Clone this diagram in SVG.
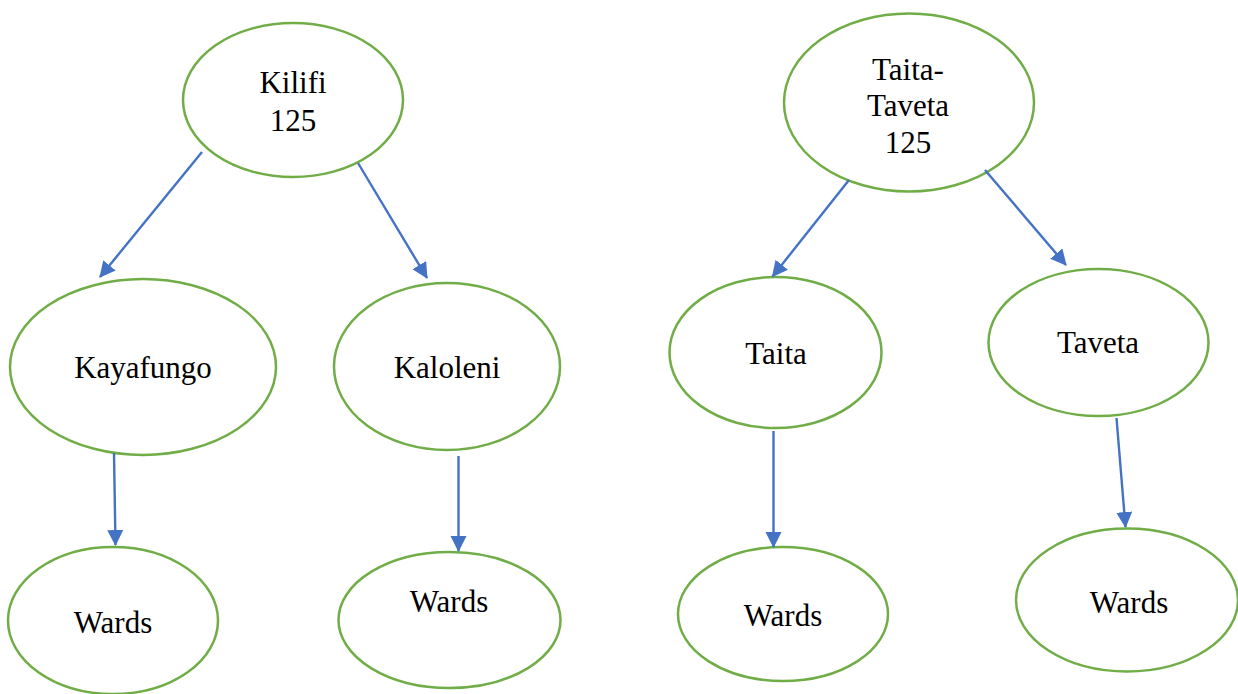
<svg xmlns="http://www.w3.org/2000/svg" width="1238" height="694" viewBox="0 0 1238 694">
<style>
.node ellipse{fill:#ffffff;stroke:#70AD47;stroke-width:2.5}
.node text{font-size:31px;fill:#000000;text-anchor:middle}
.conn line{stroke:#4472C4;stroke-width:2.4;fill:none}
</style>
<defs>
<marker id="arr" markerUnits="userSpaceOnUse" markerWidth="18" markerHeight="18" refX="15" refY="8" orient="auto">
<path d="M0,0 L16,8 L0,16 Z" fill="#4472C4"/>
</marker>
</defs>
<rect width="1238" height="694" fill="#ffffff"/>
<g font-family="'Liberation Serif', 'DejaVu Serif', serif">
<g id="kilifi" class="node"><ellipse cx="293" cy="100" rx="110" ry="77"/><text x="293" y="93">Kilifi</text><text x="293" y="131">125</text></g>
<g id="taita-taveta" class="node"><ellipse cx="909" cy="102.5" rx="125" ry="89"/><text x="908" y="80">Taita-</text><text x="908" y="116">Taveta</text><text x="908" y="153">125</text></g>
<g id="kayafungo" class="node"><ellipse cx="143" cy="367" rx="133" ry="88"/><text x="143" y="378">Kayafungo</text></g>
<g id="kaloleni" class="node"><ellipse cx="447" cy="366.5" rx="113" ry="83.5"/><text x="447" y="378">Kaloleni</text></g>
<g id="taita" class="node"><ellipse cx="775.5" cy="352.5" rx="106" ry="75.5"/><text x="776" y="364">Taita</text></g>
<g id="taveta" class="node"><ellipse cx="1098.5" cy="342.5" rx="110" ry="73.5"/><text x="1098" y="353">Taveta</text></g>
<g id="wards-kayafungo" class="node"><ellipse cx="113" cy="620.5" rx="105" ry="73.5"/><text x="113" y="633">Wards</text></g>
<g id="wards-kaloleni" class="node"><ellipse cx="449.5" cy="620" rx="111" ry="68"/><text x="449" y="612">Wards</text></g>
<g id="wards-taita" class="node"><ellipse cx="783" cy="614" rx="105" ry="67"/><text x="783" y="626">Wards</text></g>
<g id="wards-taveta" class="node"><ellipse cx="1127" cy="600" rx="111" ry="71.5"/><text x="1129" y="613">Wards</text></g>
</g>
<g id="connectors" class="conn">
<line x1="202" y1="152" x2="100" y2="277" marker-end="url(#arr)"/>
<line x1="358" y1="163" x2="427" y2="278" marker-end="url(#arr)"/>
<line x1="849" y1="180" x2="772.5" y2="276.5" marker-end="url(#arr)"/>
<line x1="985" y1="170" x2="1066" y2="265" marker-end="url(#arr)"/>
<line x1="114" y1="453" x2="115.5" y2="545" marker-end="url(#arr)"/>
<line x1="458.5" y1="456" x2="458.5" y2="551" marker-end="url(#arr)"/>
<line x1="773.5" y1="431" x2="773.5" y2="547" marker-end="url(#arr)"/>
<line x1="1116.5" y1="418" x2="1125.5" y2="527" marker-end="url(#arr)"/>
</g>
</svg>
